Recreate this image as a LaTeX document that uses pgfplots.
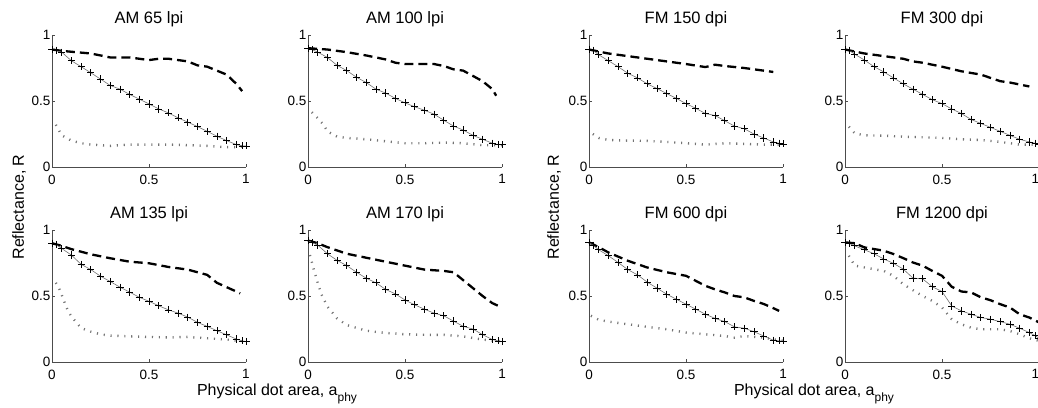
\documentclass[border=0pt]{standalone}
\usepackage{fontspec}
\setmainfont{Liberation Sans}
\usepackage{pgfplots}
\pgfplotsset{compat=1.18}
\pgfplotsset{
  panel/.style={
    scale only axis, width=194pt, height=132pt,
    anchor=south west,
    xmin=0, xmax=1, ymin=0, ymax=1,
    axis x line*=bottom, axis y line*=left,
    axis line style={black!70, line width=0.6pt, -},
    xtick={0,0.5,1}, ytick={0,0.5,1},
    xticklabels={0,0.5,1}, yticklabels={0,0.5,1},
    tick align=inside, major tick length=3pt,
    tick style={black!70, line width=0.6pt},
    tick label style={font=\fontsize{13.5}{13.5}\selectfont},
    xticklabel style={inner ysep=0pt, yshift=-7.5pt},
    yticklabel style={inner xsep=1.5pt, inner ysep=0pt},
    title style={font=\fontsize{16.5}{16.5}\selectfont, yshift=-1pt},
    clip=false,
  },
  edge/.style={xticklabels={0,0.5,\llap{1}}},
  meas/.style={black!55, line width=0.6pt, mark=+, mark size=3.6pt,
    mark options={black, line width=0.7pt, solid}},
  pred/.style={black, line width=2.3pt, dash pattern=on 9pt off 5pt, mark=none},
  prim/.style={black!55, line width=2.4pt, dash pattern=on 1.1pt off 5.8pt, mark=none},
}

\begin{document}
\begin{tikzpicture}
\useasboundingbox (0pt,0pt) rectangle (1038pt,407pt);
\clip (0pt,0pt) rectangle (1038pt,407pt);

% ---- AM 65 lpi
\begin{axis}[panel, at={(52pt,240pt)}, title={AM 65 lpi}]
\addplot[pred] coordinates {(0,0.89)(0.05,0.88)(0.1,0.873)(0.2,0.86)(0.3,0.83)(0.4,0.83)(0.5,0.81)(0.55,0.82)(0.6,0.82)(0.65,0.81)(0.7,0.80)(0.75,0.77)(0.8,0.76)(0.85,0.73)(0.9,0.70)(0.95,0.63)(0.98,0.575)};
\addplot[meas] coordinates {(0,0.89)(0.02,0.885)(0.05,0.87)(0.1,0.805)(0.15,0.76)(0.2,0.714)(0.25,0.666)(0.3,0.618)(0.35,0.59)(0.4,0.55)(0.45,0.514)(0.5,0.478)(0.55,0.44)(0.6,0.41)(0.65,0.372)(0.7,0.34)(0.75,0.306)(0.8,0.27)(0.85,0.233)(0.9,0.2)(0.95,0.17)(0.98,0.16)(1,0.16)};
\addplot[prim] coordinates {(0.02,0.32)(0.05,0.24)(0.1,0.20)(0.15,0.18)(0.2,0.17)(0.3,0.16)(0.4,0.17)(0.5,0.17)(0.6,0.17)(0.7,0.165)(0.8,0.16)(0.9,0.15)(0.95,0.15)(1,0.16)};
\end{axis}

% ---- AM 100 lpi
\begin{axis}[panel, at={(308pt,240pt)}, title={AM 100 lpi}]
\addplot[pred] coordinates {(0,0.9)(0.1,0.89)(0.2,0.87)(0.3,0.845)(0.4,0.815)(0.45,0.79)(0.5,0.78)(0.6,0.78)(0.65,0.78)(0.7,0.765)(0.75,0.74)(0.8,0.73)(0.85,0.69)(0.9,0.65)(0.95,0.59)(0.97,0.54)};
\addplot[meas] coordinates {(0,0.9)(0.02,0.89)(0.05,0.87)(0.1,0.83)(0.15,0.77)(0.2,0.73)(0.25,0.68)(0.3,0.64)(0.35,0.59)(0.4,0.56)(0.45,0.52)(0.5,0.486)(0.55,0.456)(0.6,0.43)(0.65,0.40)(0.7,0.354)(0.75,0.31)(0.8,0.28)(0.85,0.24)(0.9,0.21)(0.95,0.18)(0.98,0.17)(1,0.17)};
\addplot[prim] coordinates {(0.02,0.415)(0.05,0.37)(0.08,0.32)(0.1,0.27)(0.15,0.23)(0.2,0.22)(0.3,0.21)(0.4,0.195)(0.5,0.18)(0.6,0.18)(0.7,0.185)(0.8,0.18)(0.9,0.165)(1,0.165)};
\end{axis}

% ---- FM 150 dpi
\begin{axis}[panel, at={(589pt,240pt)}, title={FM 150 dpi}]
\addplot[pred] coordinates {(0,0.89)(0.1,0.86)(0.2,0.84)(0.3,0.82)(0.4,0.80)(0.5,0.78)(0.6,0.757)(0.65,0.775)(0.7,0.765)(0.8,0.75)(0.9,0.73)(0.95,0.72)};
\addplot[meas] coordinates {(0,0.89)(0.02,0.885)(0.05,0.85)(0.1,0.805)(0.15,0.76)(0.2,0.71)(0.25,0.675)(0.3,0.63)(0.35,0.595)(0.4,0.557)(0.45,0.52)(0.5,0.48)(0.55,0.445)(0.6,0.405)(0.65,0.39)(0.7,0.35)(0.75,0.31)(0.8,0.29)(0.85,0.25)(0.9,0.22)(0.95,0.19)(0.98,0.18)(1,0.175)};
\addplot[prim] coordinates {(0.02,0.25)(0.05,0.22)(0.1,0.205)(0.2,0.20)(0.3,0.198)(0.4,0.19)(0.5,0.18)(0.6,0.17)(0.7,0.18)(0.8,0.175)(0.9,0.17)(1,0.17)};
\end{axis}

% ---- FM 300 dpi
\begin{axis}[panel, edge, at={(845pt,240pt)}, title={FM 300 dpi}]
\addplot[pred] coordinates {(0,0.89)(0.1,0.86)(0.2,0.84)(0.3,0.82)(0.35,0.80)(0.4,0.79)(0.5,0.76)(0.6,0.725)(0.7,0.70)(0.8,0.65)(0.85,0.64)(0.9,0.625)(0.95,0.61)};
\addplot[meas] coordinates {(0,0.89)(0.02,0.885)(0.05,0.855)(0.1,0.81)(0.15,0.76)(0.2,0.72)(0.25,0.675)(0.3,0.63)(0.35,0.59)(0.4,0.55)(0.45,0.51)(0.5,0.48)(0.55,0.44)(0.6,0.405)(0.65,0.36)(0.7,0.33)(0.75,0.30)(0.8,0.27)(0.85,0.24)(0.9,0.21)(0.95,0.19)(0.98,0.18)(1,0.175)};
\addplot[prim] coordinates {(0.02,0.305)(0.05,0.255)(0.1,0.24)(0.2,0.237)(0.3,0.23)(0.4,0.225)(0.5,0.22)(0.6,0.21)(0.7,0.205)(0.8,0.19)(0.9,0.17)(1,0.17)};
\end{axis}

% ---- AM 135 lpi
\begin{axis}[panel, at={(52pt,45pt)}, title={AM 135 lpi}]
\addplot[pred] coordinates {(0,0.90)(0.05,0.88)(0.1,0.855)(0.2,0.816)(0.3,0.786)(0.4,0.76)(0.5,0.748)(0.6,0.72)(0.7,0.70)(0.8,0.66)(0.85,0.60)(0.9,0.567)(0.95,0.534)(0.97,0.52)};
\addplot[meas] coordinates {(0,0.90)(0.02,0.89)(0.05,0.86)(0.1,0.81)(0.15,0.74)(0.2,0.70)(0.25,0.65)(0.3,0.61)(0.35,0.567)(0.4,0.53)(0.45,0.49)(0.5,0.46)(0.55,0.426)(0.6,0.395)(0.65,0.37)(0.7,0.34)(0.75,0.30)(0.8,0.27)(0.85,0.237)(0.9,0.206)(0.95,0.174)(0.98,0.16)(1,0.156)};
\addplot[prim] coordinates {(0.02,0.60)(0.04,0.547)(0.06,0.47)(0.08,0.395)(0.1,0.345)(0.15,0.257)(0.2,0.23)(0.25,0.21)(0.3,0.20)(0.4,0.194)(0.5,0.19)(0.6,0.186)(0.7,0.19)(0.8,0.18)(0.9,0.17)(1,0.156)};
\end{axis}

% ---- AM 170 lpi
\begin{axis}[panel, at={(308pt,45pt)}, title={AM 170 lpi}]
\addplot[pred] coordinates {(0,0.92)(0.05,0.90)(0.1,0.87)(0.2,0.82)(0.3,0.79)(0.4,0.76)(0.5,0.73)(0.6,0.70)(0.7,0.69)(0.75,0.68)(0.8,0.62)(0.85,0.56)(0.9,0.50)(0.95,0.446)(0.98,0.426)};
\addplot[meas] coordinates {(0,0.92)(0.02,0.905)(0.05,0.886)(0.1,0.82)(0.15,0.77)(0.2,0.73)(0.25,0.68)(0.3,0.635)(0.35,0.60)(0.4,0.55)(0.45,0.516)(0.5,0.47)(0.55,0.433)(0.6,0.40)(0.65,0.37)(0.7,0.35)(0.75,0.31)(0.8,0.27)(0.85,0.25)(0.9,0.207)(0.95,0.17)(0.98,0.16)(1,0.156)};
\addplot[prim] coordinates {(0.01,0.81)(0.03,0.70)(0.05,0.60)(0.07,0.51)(0.1,0.42)(0.15,0.33)(0.2,0.28)(0.3,0.237)(0.4,0.22)(0.5,0.21)(0.6,0.206)(0.7,0.206)(0.8,0.194)(0.9,0.17)(1,0.156)};
\end{axis}

% ---- FM 600 dpi
\begin{axis}[panel, at={(589pt,45pt)}, title={FM 600 dpi}]
\addplot[pred] coordinates {(0,0.906)(0.05,0.87)(0.1,0.83)(0.2,0.767)(0.3,0.716)(0.4,0.68)(0.5,0.653)(0.55,0.615)(0.6,0.577)(0.65,0.55)(0.7,0.527)(0.75,0.50)(0.8,0.49)(0.85,0.463)(0.9,0.44)(0.95,0.408)(0.98,0.387)};
\addplot[meas] coordinates {(0,0.906)(0.02,0.885)(0.05,0.85)(0.1,0.805)(0.15,0.754)(0.2,0.70)(0.25,0.66)(0.3,0.605)(0.35,0.56)(0.4,0.514)(0.45,0.476)(0.5,0.438)(0.55,0.40)(0.6,0.362)(0.65,0.33)(0.7,0.306)(0.75,0.266)(0.8,0.256)(0.85,0.23)(0.9,0.197)(0.95,0.165)(0.98,0.16)(1,0.16)};
\addplot[prim] coordinates {(0.01,0.35)(0.05,0.32)(0.1,0.306)(0.2,0.286)(0.3,0.266)(0.4,0.248)(0.5,0.223)(0.6,0.21)(0.7,0.197)(0.75,0.185)(0.8,0.197)(0.9,0.185)(1,0.16)};
\end{axis}

% ---- FM 1200 dpi
\begin{axis}[panel, edge, at={(845pt,45pt)}, title={FM 1200 dpi}]
\addplot[pred] coordinates {(0,0.906)(0.05,0.90)(0.1,0.868)(0.2,0.843)(0.25,0.818)(0.3,0.787)(0.35,0.754)(0.4,0.73)(0.45,0.69)(0.5,0.653)(0.55,0.57)(0.6,0.534)(0.65,0.527)(0.7,0.49)(0.75,0.468)(0.8,0.438)(0.85,0.413)(0.9,0.362)(0.95,0.337)(1,0.30)};
\addplot[meas] coordinates {(0,0.906)(0.02,0.9)(0.05,0.88)(0.1,0.85)(0.15,0.82)(0.2,0.78)(0.25,0.747)(0.3,0.704)(0.35,0.636)(0.4,0.63)(0.45,0.57)(0.5,0.534)(0.55,0.425)(0.6,0.387)(0.65,0.362)(0.7,0.337)(0.75,0.324)(0.8,0.306)(0.85,0.286)(0.9,0.256)(0.95,0.223)(0.98,0.2)(1,0.18)};
\addplot[prim] coordinates {(0.02,0.805)(0.05,0.73)(0.1,0.716)(0.2,0.69)(0.25,0.653)(0.3,0.59)(0.35,0.544)(0.4,0.50)(0.45,0.463)(0.5,0.413)(0.55,0.324)(0.6,0.286)(0.65,0.26)(0.7,0.248)(0.8,0.248)(0.85,0.235)(0.9,0.21)(0.95,0.18)(1,0.16)};
\end{axis}

% shared labels
\node[rotate=90, font=\fontsize{16}{16}\selectfont] at (19pt,200pt) {Reflectance, R};
\node[rotate=90, font=\fontsize{16}{16}\selectfont] at (554pt,200pt) {Reflectance, R};
\node[anchor=base, font=\fontsize{16}{16}\selectfont] at (277pt,12pt) {Physical dot area, a\raisebox{-6pt}{\fontsize{12}{12}\selectfont phy}};
\node[anchor=base, font=\fontsize{16}{16}\selectfont] at (814pt,12pt) {Physical dot area, a\raisebox{-6pt}{\fontsize{12}{12}\selectfont phy}};
\end{tikzpicture}
\end{document}
